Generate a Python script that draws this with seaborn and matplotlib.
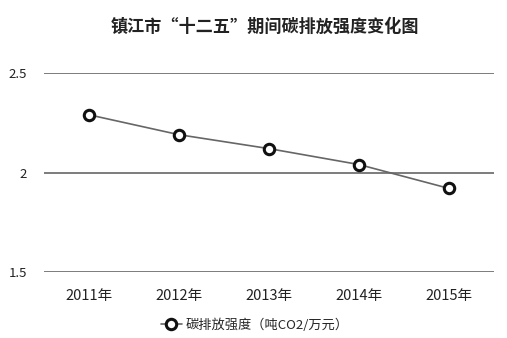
import matplotlib
matplotlib.use("Agg")
import matplotlib.pyplot as plt
import seaborn as sns
import pandas as pd

years = ["2011年", "2012年", "2013年", "2014年", "2015年"]
intensity = [2.29, 2.19, 2.12, 2.04, 1.92]
yticks = [1.5, 2.0, 2.5]
ytick_labels = ["1.5", "2", "2.5"]
title = "镇江市“十二五”期间碳排放强度变化图"
series_name = "碳排放强度（吨CO2/万元）"

sns.set_theme(style="white")
plt.rcParams['font.family'] = ['Noto Sans CJK SC', 'DejaVu Sans']

df = pd.DataFrame({"year": years, "value": intensity})

fig = plt.figure(figsize=(5.07, 3.38), dpi=100)
ax = fig.add_axes([44/507, 1-272/338, 450/507, 199/338])

sns.lineplot(data=df, x="year", y="value", ax=ax, color="#666666", linewidth=1.2,
             marker="o", markersize=7.5, markerfacecolor="white", markeredgecolor="#111111",
             markeredgewidth=2.2, label=series_name, sort=False)

ax.set_ylim(1.5, 2.5)
ax.set_xlim(-0.5, 4.5)
ax.set_yticks(yticks)
ax.set_yticklabels(ytick_labels, fontsize=9.5, color="#222222")
ax.tick_params(axis="x", labelsize=10.5, colors="#222222", length=0, pad=12)
ax.tick_params(axis="y", length=0, pad=12)
for s in ax.spines.values():
    s.set_visible(False)
ax.grid(axis="y", color="#666666", linewidth=1.2)
ax.set_xlabel("")
ax.set_ylabel("")
for l in ax.lines:
    l.set_clip_on(False)

ax.legend(loc="center", bbox_to_anchor=(255/507, 1-325/338), bbox_transform=fig.transFigure,
          frameon=False, fontsize=9.5, handlelength=1.6, handletextpad=0.3)

fig.text(265/507, 1-27/338, title, ha="center", va="center", fontsize=12.3, fontweight="bold", color="#222222")

fig.savefig("out.png", dpi=100, facecolor="white")
